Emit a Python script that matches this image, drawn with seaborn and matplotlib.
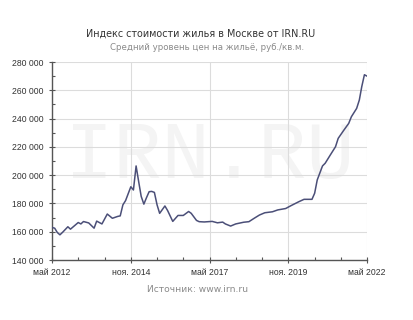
import matplotlib
matplotlib.use("Agg")
import matplotlib.pyplot as plt
import matplotlib.dates as mdates
import matplotlib.ticker as mticker
import numpy as np
import pandas as pd
import seaborn as sns

# months since May 2012 and price level (rub / sq.m)
month_offsets = [0, 1, 2, 3, 4, 6, 7, 10, 11, 12, 14, 16, 17, 19, 21, 23, 25, 26, 27, 28,
                 30, 31, 32, 33, 34, 35, 36, 37, 38, 39, 40, 41, 43, 44, 46, 48, 50, 52, 53,
                 55, 56, 58, 61, 63, 65, 66, 68, 70, 73, 75, 77, 79, 81, 84, 86, 89, 91, 94,
                 96, 99, 100, 101, 103, 104, 106, 108, 109, 111, 113, 114, 116, 117, 118, 119, 120]
prices = [163000, 162500, 159500, 157800, 159600, 163500, 161800, 166500, 165500, 167200,
          166200, 162500, 167500, 165500, 172500, 169500, 170800, 171200, 179000, 182000,
          191800, 189500, 206500, 195000, 185000, 179500, 184000, 188300, 188500, 187800,
          179000, 173000, 178200, 175000, 167300, 171500, 171500, 174300, 173000,
          168000, 167100, 166900, 167300, 166300, 166800, 165500, 164000, 165500, 166700,
          167100, 169500, 171800, 173400, 174100, 175400, 176400, 178400, 181200,
          182900, 182900, 187200, 196600, 206500, 208400, 214200, 220100, 226000, 231400,
          236600, 241300, 247200, 253100, 262500, 271000, 270000]

x_tick_dates = ["2012-05-01", "2014-11-01", "2017-05-01", "2019-11-01", "2022-05-01"]
x_tick_labels = ["май 2012", "ноя. 2014", "май 2017", "ноя. 2019", "май 2022"]
y_ticks = [140000, 160000, 180000, 200000, 220000, 240000, 260000, 280000]

title = "Индекс стоимости жилья в Москве от IRN.RU"
subtitle = "Средний уровень цен на жильё, руб./кв.м."
source = "Источник: www.irn.ru"
watermark = "IRN.RU"

start = pd.Timestamp("2012-05-01")
dates = [start + pd.DateOffset(months=m) for m in month_offsets]
df = pd.DataFrame({"date": dates, "price": prices})

sns.set_theme(style="white")
plt.rcParams['font.family'] = ['DejaVu Sans']

fig = plt.figure(figsize=(4.14, 3.2), dpi=100)
ax = fig.add_axes([52/414, 1 - 260/320, (367 - 52)/414, (260 - 62)/320])

ax.text(0.5, 0.52, watermark, transform=ax.transAxes, ha="center", va="center",
        fontsize=58, family="Liberation Mono", color="#f4f4f4", zorder=0)

sns.lineplot(data=df, x="date", y="price", ax=ax, color="#4b4f78", linewidth=1.1, zorder=3)

ax.set_xlim(pd.Timestamp("2012-05-01"), pd.Timestamp("2022-05-01"))
ax.set_ylim(140000, 280000)

xt = [pd.Timestamp(d) for d in x_tick_dates]
ax.set_xticks(xt)
ax.set_xticklabels(x_tick_labels, family="Liberation Sans", fontsize=6.2, color="#333333")
minor_x = [start + pd.DateOffset(months=m) for m in range(0, 121, 10)]
ax.set_xticks(minor_x, minor=True)
ax.set_yticks(y_ticks)
ax.set_yticklabels([f"{v:,}".replace(",", " ") for v in y_ticks],
                   family="Liberation Sans", fontsize=6.2, color="#333333")
ax.yaxis.set_minor_locator(mticker.MultipleLocator(10000))

ax.set_xlabel("")
ax.set_ylabel("")
ax.grid(True, which="major", color="#dcdcdc", linewidth=0.8, zorder=1)
ax.set_axisbelow(True)
for s in ["top", "right"]:
    ax.spines[s].set_visible(False)
for s in ["left", "bottom"]:
    ax.spines[s].set_color("#555555")
    ax.spines[s].set_linewidth(1.0)
ax.tick_params(axis="both", which="major", direction="inout", length=4, width=0.8,
               color="#555555", pad=4, bottom=True, left=True)
ax.tick_params(axis="both", which="minor", direction="in", length=2.5, width=0.8,
               color="#555555", bottom=True, left=True)

fig.text(201/414, 1 - 34/320, title, ha="center", va="center", fontsize=6.9,
         color="#333333")
fig.text(207/414, 1 - 48/320, subtitle, ha="center", va="center", fontsize=6.2,
         color="#8a8a8a")
fig.text(198/414, 1 - 290/320, source, ha="center", va="center", fontsize=6.6,
         color="#8a8a8a")

fig.savefig("out.png", dpi=100, facecolor="white")
